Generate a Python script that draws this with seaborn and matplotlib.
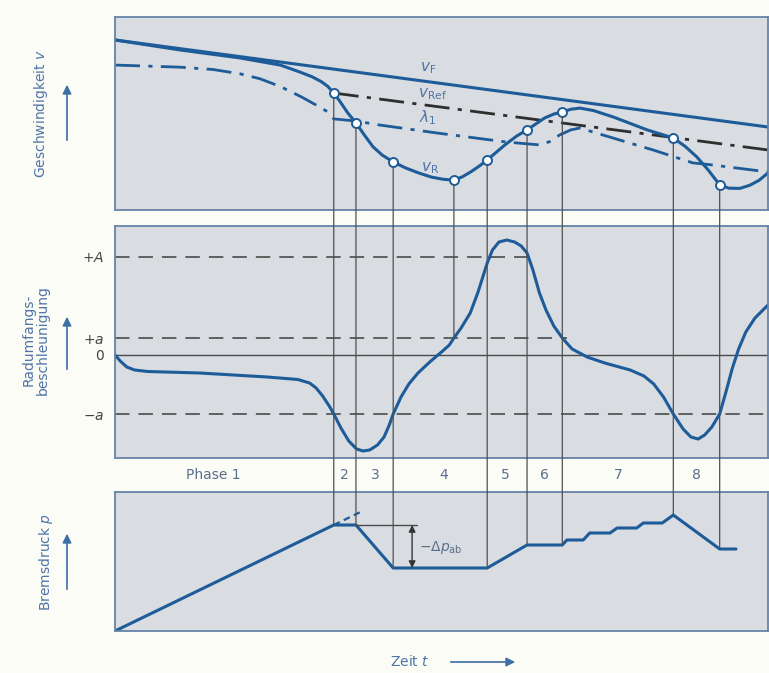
import numpy as np
import pandas as pd
import matplotlib
matplotlib.use("Agg")
import matplotlib.pyplot as plt
import seaborn as sns
from matplotlib.patches import ConnectionPatch, FancyArrowPatch
from matplotlib.transforms import blended_transform_factory

# ---------------- data (time axis 0..100, arbitrary units) ----------------
vF_t = [0, 100]
vF_v = [88.1, 43.0]

vR_t = [0, 10.0, 19.1, 25.3, 28.3, 30.2, 31.6, 32.6, 33.5, 34.4, 35.6, 36.9, 38.2,
        39.5, 40.9, 42.6, 44.5, 46.5, 48.5, 50.3, 51.9, 53.2, 54.6, 56.0, 57.0,
        59.7, 61.5, 63.1, 65.8, 67.2, 68.5, 69.8, 71.2, 73.3, 76.3, 81.5, 85.5,
        87.3, 89.1, 90.9, 92.6, 94.0, 95.7, 97.2, 98.6, 100]
vR_v = [88.1, 82.9, 78.8, 75.1, 71.5, 69.0, 66.5, 64.0, 60.6, 56.5, 50.5, 45.1, 38.8,
        32.8, 28.5, 24.9, 21.8, 19.2, 17.0, 15.9, 15.5, 17.2, 20.0, 23.3, 25.9,
        33.7, 38.3, 41.5, 47.7, 49.7, 50.8, 52.2, 52.8, 51.5, 48.2, 41.5, 37.3,
        33.0, 27.5, 20.5, 13.0, 11.3, 11.2, 12.8, 15.3, 19.2]

vRef_t = [33.5, 100]
vRef_v = [60.6, 31.1]

lam_t = [0, 10.0, 15.0, 19.1, 22.2, 25.3, 28.6, 31.0, 32.6, 33.5, 36.9, 40.6, 49.3,
         60.0, 65.1, 66.6, 68.1, 69.8, 71.2, 73.2, 82.4, 88.5, 91.6, 100]
lam_v = [75.1, 74.0, 72.8, 70.6, 68.0, 64.0, 58.5, 54.0, 50.8, 47.2, 46.1, 44.0, 39.9,
         35.2, 33.7, 35.5, 38.9, 41.5, 42.5, 40.4, 31.1, 24.4, 23.3, 19.7]

acc_t = [0, 0.8, 1.8, 3.0, 5.0, 13.0, 23.3, 28.0, 29.8, 30.8, 31.8, 32.9, 33.5,
         34.6, 35.8, 37.0, 38.0, 39.0, 40.2, 41.2, 42.0, 42.6, 43.8, 45.0, 46.4,
         48.2, 50.0, 51.2, 51.9, 53.0, 54.4, 55.6, 57.0, 57.8, 58.8, 60.0, 61.2,
         62.2, 63.1, 64.0, 65.0, 66.0, 67.2, 68.5, 70.0, 72.3, 75.0, 78.9, 81.0,
         82.5, 84.0, 85.5, 87.0, 88.2, 89.3, 90.3, 91.4, 92.6, 93.6, 94.5, 95.5,
         96.6, 98.0, 100]
acc_a = [0, -6, -12, -15, -16.5, -18, -22, -24.5, -28, -33, -41, -52, -59,
         -73, -86, -94, -96, -95, -90, -82, -70, -59, -42, -29, -18,
         -7, 3, 10, 17, 27, 42, 63, 92, 105, 113, 115, 113,
         109, 102, 85, 62, 45, 29, 17, 6, -2, -8, -15, -21,
         -29, -42, -59, -74, -82, -84, -80, -72, -59, -36, -14, 6,
         23, 37, 50]

p_t = [0, 33.5, 36.9, 42.6, 57.0, 63.1, 68.5, 69.2, 71.7, 72.7, 75.8, 76.9, 79.9,
       80.9, 83.8, 85.5, 92.6, 95.1]
p_p = [0, 106, 106, 63, 63, 86, 86, 91, 91, 98, 98, 103, 103, 108, 108, 116, 82, 82]

# thresholds (middle panel)
thr_A, thr_a, thr_ma = 98, 17, -59

# event instants: t, vR value, lower end value, target panel
event_t = [33.5, 36.9, 42.6, 51.9, 57.0, 63.1, 68.5, 85.5, 92.6]
event_v = [60.6, 45.1, 24.9, 15.5, 25.9, 41.5, 50.8, 37.3, 13.0]
event_end = [106, 106, 63, 17, 63, 86, 86, 116, 82]
event_panel = ["p", "p", "p", "a", "p", "p", "p", "p", "p"]

phase_labels = ["Phase 1", "2", "3", "4", "5", "6", "7", "8"]
phase_pos = [15.0, 35.2, 39.8, 50.3, 59.8, 65.8, 77.0, 89.0]

# ---------------- style ----------------
sns.set_theme(style="white")
plt.rcParams["font.family"] = ["DejaVu Sans"]
plt.rcParams["mathtext.fontset"] = "dejavusans"

BG = "#fcfcf7"
PANEL = "#d9dce1"
BLUE = "#1d5c99"
TXT = "#4f74a6"
GREY = "#4a4a4a"
EDGE = "#6683a8"

W, H = 769, 673
fig = plt.figure(figsize=(W / 100, H / 100), dpi=100, facecolor=BG)


def rect(l, t, r, b):
    return [l / W, 1 - b / H, (r - l) / W, (b - t) / H]


ax_v = fig.add_axes(rect(115, 17, 768, 210))
ax_a = fig.add_axes(rect(115, 226, 768, 458))
ax_p = fig.add_axes(rect(115, 492, 768, 631))

for ax in (ax_v, ax_a, ax_p):
    ax.set_facecolor(PANEL)
    ax.set_xlim(0, 100)
    ax.set_xticks([])
    for s in ax.spines.values():
        s.set_color(EDGE)
        s.set_linewidth(1.3)

ax_v.set_ylim(0, 100)
ax_a.set_ylim(-103, 129)
ax_p.set_ylim(0, 139)
ax_v.set_yticks([])
ax_p.set_yticks([])

# ---------------- top panel ----------------
sns.lineplot(x=vF_t, y=vF_v, ax=ax_v, color=BLUE, linewidth=2.2, estimator=None, sort=False)
sns.lineplot(x=vRef_t, y=vRef_v, ax=ax_v, color="#2e2e2e", linewidth=2.0, estimator=None, sort=False)
ax_v.lines[-1].set_dashes([9, 3, 1.5, 3])
sns.lineplot(x=lam_t, y=lam_v, ax=ax_v, color=BLUE, linewidth=2.0, estimator=None, sort=False)
ax_v.lines[-1].set_dashes([9, 3, 1.5, 3])
sns.lineplot(x=vR_t, y=vR_v, ax=ax_v, color=BLUE, linewidth=2.2, estimator=None, sort=False)
ax_v.lines[-1].set_solid_joinstyle("round")
sns.scatterplot(x=event_t, y=event_v, ax=ax_v, s=42, color="white", edgecolor=BLUE,
                linewidth=1.4, zorder=10)
ax_v.set_xlabel("")
ax_v.set_ylabel("")

ax_v.text(47.9, 73.6, r"$v_\mathrm{F}$", color=TXT, fontsize=11, ha="center", va="center")
ax_v.text(48.6, 59.8, r"$v_\mathrm{Ref}$", color=TXT, fontsize=11, ha="center", va="center")
ax_v.text(47.9, 47.9, r"$\lambda_1$", color=TXT, fontsize=11, ha="center", va="center")
ax_v.text(48.2, 21.8, r"$v_\mathrm{R}$", color=TXT, fontsize=11, ha="center", va="center")

# ---------------- middle panel ----------------
ax_a.axhline(0, color=GREY, lw=1.0, zorder=1)
ax_a.plot([0, 64.0], [thr_A, thr_A], color="#555555", lw=1.3, dashes=[8, 5], zorder=1)
ax_a.plot([0, 69.2], [thr_a, thr_a], color="#555555", lw=1.3, dashes=[8, 5], zorder=1)
ax_a.axhline(thr_ma, color="#555555", lw=1.3, dashes=[8, 5], zorder=1)
sns.lineplot(x=acc_t, y=acc_a, ax=ax_a, color=BLUE, linewidth=2.2, estimator=None, sort=False)
ax_a.lines[-1].set_solid_joinstyle("round")
ax_a.set_xlabel("")
ax_a.set_ylabel("")
ax_a.set_yticks([thr_A, thr_a, 0, thr_ma])
ax_a.set_yticklabels([r"$+A$", r"$+a$", "0", r"$-a$"])
ax_a.tick_params(axis="y", length=0, pad=8, labelsize=10, labelcolor="#444444")

tr = blended_transform_factory(ax_a.transData, ax_a.transAxes)
for lab, pos in zip(phase_labels, phase_pos):
    ax_a.text(pos, -0.073, lab, transform=tr, ha="center", va="center",
              fontsize=10, color="#5a6f8c")

# ---------------- bottom panel ----------------
sns.lineplot(x=p_t, y=p_p, ax=ax_p, color=BLUE, linewidth=2.2, estimator=None, sort=False)
ax_p.set_xlabel("")
ax_p.set_ylabel("")
ax_p.plot([33.5, 37.6], [106, 119], color=BLUE, lw=1.6, dashes=[3, 2])
ax_p.plot([36.9, 46.3], [106, 106], color=GREY, lw=1.0)
ax_p.annotate("", xy=(45.5, 63), xytext=(45.5, 106),
              arrowprops=dict(arrowstyle="<|-|>", color="#333333", lw=1.0,
                              mutation_scale=10, shrinkA=0, shrinkB=0))
ax_p.text(46.6, 84, r"$-\Delta p_\mathrm{ab}$", color="#5a6f8c", fontsize=10, va="center")

# ---------------- connecting event lines ----------------
for t, v, e, pn in zip(event_t, event_v, event_end, event_panel):
    tgt = ax_a if pn == "a" else ax_p
    con = ConnectionPatch(xyA=(t, v), coordsA=ax_v.transData,
                          xyB=(t, e), coordsB=tgt.transData,
                          color="#505050", lw=0.9, shrinkA=3.5, shrinkB=0, zorder=5)
    fig.add_artist(con)

# ---------------- axis titles and arrows ----------------
fig.text(41 / W, 1 - 113 / H, r"Geschwindigkeit $v$", rotation=90, ha="center",
         va="center", fontsize=10, color=TXT)
fig.text(36 / W, 1 - 340 / H, "Radumfangs-\nbeschleunigung", rotation=90, ha="center",
         va="center", fontsize=10, color=TXT, linespacing=1.0)
fig.text(46 / W, 1 - 562 / H, r"Bremsdruck $p$", rotation=90, ha="center",
         va="center", fontsize=10, color=TXT)
fig.text(410 / W, 1 - 662 / H, r"Zeit $t$", ha="center", va="center",
         fontsize=10, color=TXT)


def farrow(x0, y0, x1, y1):
    fig.add_artist(FancyArrowPatch((x0 / W, 1 - y0 / H), (x1 / W, 1 - y1 / H),
                                   transform=fig.transFigure, arrowstyle="-|>",
                                   mutation_scale=13, color="#3e6ea3", lw=1.2))


farrow(67, 143, 67, 82)
farrow(67, 372, 67, 314)
farrow(67, 592, 67, 531)
farrow(448, 662, 518, 662)

fig.savefig("out.png", dpi=100, facecolor=BG)
